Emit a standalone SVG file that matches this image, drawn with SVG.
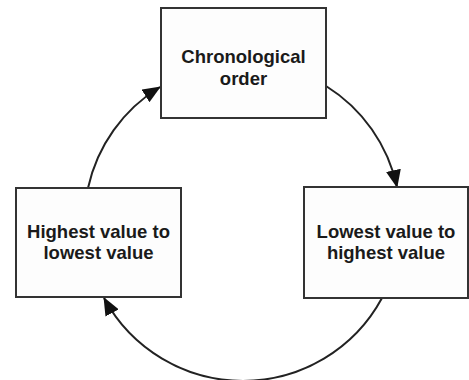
<svg xmlns="http://www.w3.org/2000/svg" width="469" height="380" viewBox="0 0 469 380">
<style>
.box{fill:#fdfdfd;stroke:#333;stroke-width:2}
.lbl{font-family:"Liberation Sans",Arial,sans-serif;font-weight:bold;font-size:18.5px;fill:#1a1a1a;text-anchor:middle}
.con{fill:none;stroke:#222;stroke-width:2;marker-end:url(#ah)}
</style>
<defs>
<marker id="ah" markerWidth="18" markerHeight="15" refX="17" refY="7.5" orient="auto" markerUnits="userSpaceOnUse">
<path d="M0,0 L18,7.5 L0,15 Z" fill="#111"/>
</marker>
</defs>
<rect width="469" height="380" fill="#fff"/>
<g id="connectors">
<path class="con" d="M88,188 A158,158 0 0 1 160,87"/>
<path class="con" d="M326,86 A158,158 0 0 1 397,187"/>
<path class="con" d="M382,298 A158,158 0 0 1 104,298"/>
</g>
<g id="chronological">
<rect class="box" x="161" y="8" width="165" height="110"/>
<text class="lbl" x="243.5" y="63">Chronological</text>
<text class="lbl" x="243.5" y="85">order</text>
</g>
<g id="lowest">
<rect class="box" x="304" y="187" width="164" height="111"/>
<text class="lbl" x="386" y="238">Lowest value to</text>
<text class="lbl" x="386" y="259">highest value</text>
</g>
<g id="highest">
<rect class="box" x="16" y="188" width="165" height="109"/>
<text class="lbl" x="98.5" y="238">Highest value to</text>
<text class="lbl" x="98.5" y="259">lowest value</text>
</g>
</svg>
